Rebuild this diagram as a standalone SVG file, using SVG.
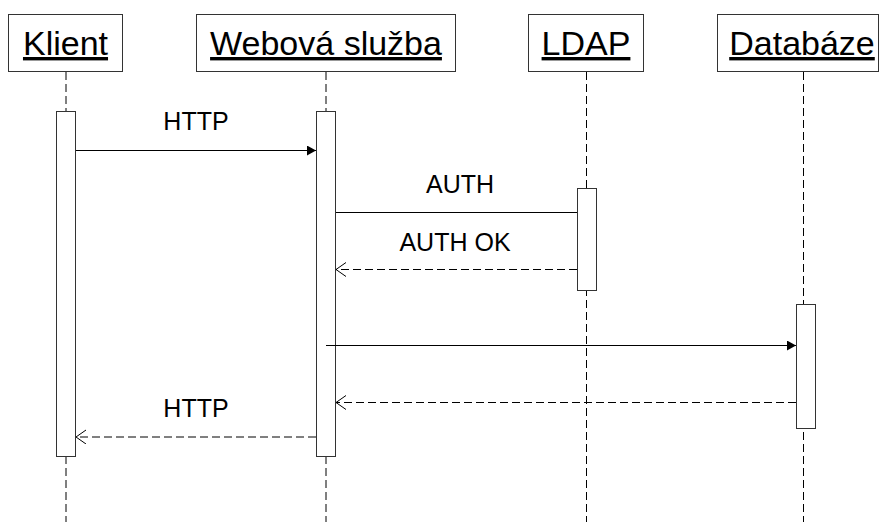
<svg xmlns="http://www.w3.org/2000/svg" width="880" height="522" viewBox="0 0 880 522">
<defs>
<style>
.box{fill:#fff;stroke:#333;stroke-width:1}
.act{fill:#fff;stroke:#333;stroke-width:1}
.life{stroke:#000;stroke-width:1;stroke-dasharray:8,4;fill:none}
.msg{stroke:#000;stroke-width:1;fill:none}
.ret{stroke:#000;stroke-width:1;stroke-dasharray:8,4;fill:none}
.title{font-family:"Liberation Sans",Arial,sans-serif;font-size:34px;text-decoration:underline;text-anchor:middle;fill:#000}
.lbl{font-family:"Liberation Sans",Arial,sans-serif;font-size:25px;text-anchor:middle;fill:#000}
</style>
<marker id="filled" markerWidth="10" markerHeight="10" refX="9" refY="5" orient="auto" markerUnits="userSpaceOnUse">
<path d="M0,0 L9,5 L0,10 Z" fill="#000"/>
</marker>
<marker id="open" markerWidth="12" markerHeight="16" refX="10" refY="7" orient="auto" markerUnits="userSpaceOnUse">
<path d="M0,0 L10,7 L0,14" fill="none" stroke="#000" stroke-width="1"/>
</marker>
</defs>
<rect width="880" height="522" fill="#fff"/>
<g id="lifelines">
<line class="life" x1="66" y1="72" x2="66" y2="522"/>
<line class="life" x1="326" y1="72" x2="326" y2="522"/>
<line class="life" x1="586.5" y1="72" x2="586.5" y2="522"/>
<line class="life" x1="803.5" y1="72" x2="803.5" y2="522"/>
</g>
<g id="klient">
<rect class="box" x="8.5" y="14.5" width="114" height="57"/>
<text class="title" x="65.5" y="55">Klient</text>
<rect class="act" x="56.5" y="111.5" width="19" height="345"/>
</g>
<g id="webova-sluzba">
<rect class="box" x="196.5" y="14.5" width="259" height="57"/>
<text class="title" x="326" y="55">Webová služba</text>
<rect class="act" x="316.5" y="111.5" width="19" height="345"/>
</g>
<g id="ldap">
<rect class="box" x="528.5" y="14.5" width="115" height="57"/>
<text class="title" x="586" y="55">LDAP</text>
<rect class="act" x="577.5" y="188.5" width="19" height="102"/>
</g>
<g id="databaze">
<rect class="box" x="717.5" y="14.5" width="161" height="57"/>
<text class="title" x="802" y="55">Databáze</text>
<rect class="act" x="796.5" y="304.5" width="19" height="124"/>
</g>
<g id="connectors">
<line class="msg" x1="76" y1="150.5" x2="316" y2="150.5" marker-end="url(#filled)"/>
<text class="lbl" x="196" y="130">HTTP</text>
<line class="msg" x1="336" y1="212.5" x2="577" y2="212.5"/>
<text class="lbl" x="460" y="193">AUTH</text>
<line class="ret" x1="577" y1="269.5" x2="336" y2="269.5" marker-end="url(#open)"/>
<text class="lbl" x="455" y="251">AUTH OK</text>
<line class="msg" x1="326" y1="345.5" x2="796" y2="345.5" marker-end="url(#filled)"/>
<line class="ret" x1="796" y1="402.5" x2="336" y2="402.5" marker-end="url(#open)"/>
<line class="ret" x1="316" y1="437" x2="76" y2="437" marker-end="url(#open)"/>
<text class="lbl" x="196" y="417">HTTP</text>
</g>
</svg>
